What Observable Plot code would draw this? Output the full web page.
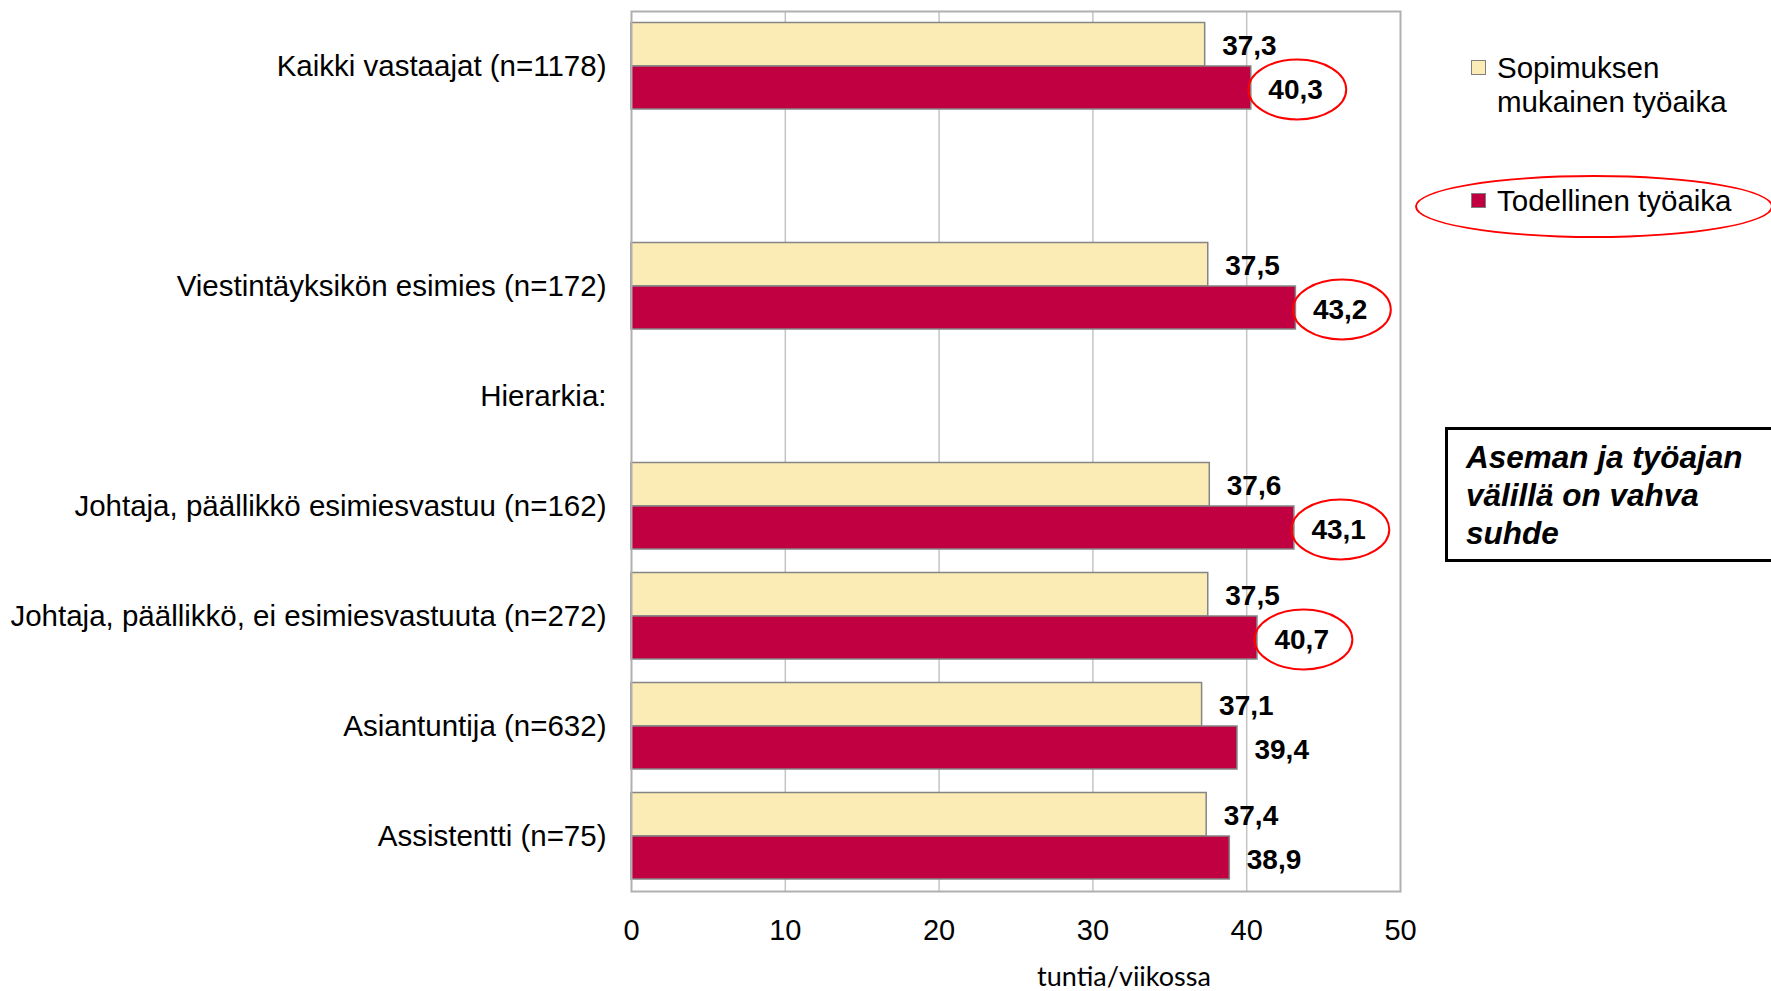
<!DOCTYPE html>
<html><head><meta charset="utf-8">
<script src="https://cdn.jsdelivr.net/npm/d3@7"></script>
<script src="https://cdn.jsdelivr.net/npm/@observablehq/plot@0.6"></script>
<style>
html,body{margin:0;padding:0;background:#fff;overflow:hidden;width:1771px;height:991px}
#wrap{position:relative;width:1771px;height:991px;font-family:"Liberation Sans",Arial,sans-serif;color:#000;overflow:hidden}
#chart svg{display:block}
.abs{position:absolute;white-space:nowrap}
.sq{position:absolute;width:13px;height:13px;border:1.5px solid #808080}
</style></head><body>
<div id="wrap">
  <div id="chart"></div>
  <div class="sq" id="sq0" style="left:1471px;top:60px"></div>
  <div class="abs" id="lg0" style="left:1497px;top:51px;font-size:29.5px;line-height:34px"></div>
  <div class="sq" id="sq1" style="left:1471px;top:193px"></div>
  <div class="abs" id="lg1" style="left:1497px;top:184px;font-size:29.5px;line-height:34px"></div>
  <div class="abs" style="left:1415px;top:175px;width:354px;height:59px;border:2px solid #ff0000;border-radius:50%"></div>
  <div class="abs" id="note" style="left:1445px;top:427px;width:330px;height:121px;border:3px solid #000;padding:8px 0 0 18px;box-sizing:content-box;font-size:31.5px;line-height:38px;font-weight:bold;font-style:italic"></div>
  <div class="abs" id="xtitle" style="left:1124px;top:962px;transform:translateX(-50%);font-family:Lato,'Open Sans',sans-serif;font-size:27px;line-height:28px"></div>
</div>
<script>
// ---- data ----
const rowLabels = [
  "Kaikki vastaajat (n=1178)",
  " ",
  "Viestintäyksikön esimies (n=172)",
  "Hierarkia:",
  "Johtaja, päällikkö esimiesvastuu (n=162)",
  "Johtaja, päällikkö, ei esimiesvastuuta (n=272)",
  "Asiantuntija (n=632)",
  "Assistentti (n=75)"
];
const barCategories = [
  "Kaikki vastaajat (n=1178)",
  "Viestintäyksikön esimies (n=172)",
  "Johtaja, päällikkö esimiesvastuu (n=162)",
  "Johtaja, päällikkö, ei esimiesvastuuta (n=272)",
  "Asiantuntija (n=632)",
  "Assistentti (n=75)"
];
const sopimuksenValues = [37.3, 37.5, 37.6, 37.5, 37.1, 37.4];
const todellinenValues = [40.3, 43.2, 43.1, 40.7, 39.4, 38.9];
const circledCategories = [
  "Kaikki vastaajat (n=1178)",
  "Viestintäyksikön esimies (n=172)",
  "Johtaja, päällikkö esimiesvastuu (n=162)",
  "Johtaja, päällikkö, ei esimiesvastuuta (n=272)"
];
const seriesNames = ["Sopimuksen mukainen työaika", "Todellinen työaika"];
const seriesLegendLines = [["Sopimuksen", "mukainen työaika"], ["Todellinen työaika"]];
const seriesColors = ["#FBECB5", "#C00040"];
const xTicks = [0, 10, 20, 30, 40, 50];
const gridTicks = [10, 20, 30, 40];
const xTitle = "tuntia/viikossa";
const noteLines = ["Aseman ja työajan", "välillä on vahva", "suhde"];

// ---- tables ----
const sop = barCategories.map((c, i) => ({cat: c, value: sopimuksenValues[i]}));
const tod = barCategories.map((c, i) => ({cat: c, value: todellinenValues[i]}));
const circled = tod.filter(d => circledCategories.includes(d.cat));
const fmt = v => v.toFixed(1).replace(".", ",");

const ellipseSymbol = {
  draw(ctx, size) {
    const r = Math.sqrt(size / Math.PI), rx = r * 1.63, ry = r, k = 0.5523;
    ctx.moveTo(rx, 0);
    ctx.bezierCurveTo(rx, k * ry, k * rx, ry, 0, ry);
    ctx.bezierCurveTo(-k * rx, ry, -rx, k * ry, -rx, 0);
    ctx.bezierCurveTo(-rx, -k * ry, -k * rx, -ry, 0, -ry);
    ctx.bezierCurveTo(k * rx, -ry, rx, -k * ry, rx, 0);
    ctx.closePath();
  }
};

const chart = Plot.plot({
  width: 1771,
  height: 991,
  marginLeft: 631,
  marginRight: 371,
  marginTop: 11,
  marginBottom: 100,
  style: {fontFamily: "'Liberation Sans', Arial, sans-serif", fontSize: "29px", color: "#000", background: "#fff"},
  x: {domain: [0, 50], ticks: xTicks, tickSize: 0, tickPadding: 28, label: null, tickFormat: d => String(d)},
  y: {domain: rowLabels, padding: 0, tickSize: 0, tickPadding: 25, label: null},
  marks: [
    Plot.ruleX(gridTicks, {stroke: "#c4c4c4", strokeWidth: 1.5}),
    Plot.barX(sop, {x: "value", y: "cat", fill: seriesColors[0], stroke: "#858585", strokeWidth: 1.5, insetTop: 11.5, insetBottom: 55}),
    Plot.barX(tod, {x: "value", y: "cat", fill: seriesColors[1], stroke: "#858585", strokeWidth: 1.5, insetTop: 55, insetBottom: 12}),
    Plot.frame({stroke: "#b0b0b0", strokeWidth: 2}),
    Plot.text(sop, {x: "value", y: "cat", text: d => fmt(d.value), dx: 17, dy: -20, textAnchor: "start", fontWeight: "bold", fontSize: 28, fill: "#000"}),
    Plot.text(tod, {x: "value", y: "cat", text: d => fmt(d.value), dx: 17, dy: 24, textAnchor: "start", fontWeight: "bold", fontSize: 28, fill: "#000"}),
    Plot.dot(circled, {x: "value", y: "cat", dx: 46, dy: 23, r: 30, symbol: ellipseSymbol, stroke: "#ff0000", strokeWidth: 2, fill: "none"})
  ]
});
chart.querySelectorAll('g[aria-label="y-axis tick label"] text, g[aria-label="y-axis"] text').forEach(t => t.style.fontSize = "29.5px");
document.getElementById("chart").appendChild(chart);

// ---- legend & annotations ----
document.getElementById("sq0").style.background = seriesColors[0];
document.getElementById("sq1").style.background = seriesColors[1];
document.getElementById("lg0").innerHTML = seriesLegendLines[0].join("<br>");
document.getElementById("lg1").textContent = seriesLegendLines[1].join(" ");
document.getElementById("note").innerHTML = noteLines.join("<br>");
document.getElementById("xtitle").textContent = xTitle;
</script>
</body></html>
